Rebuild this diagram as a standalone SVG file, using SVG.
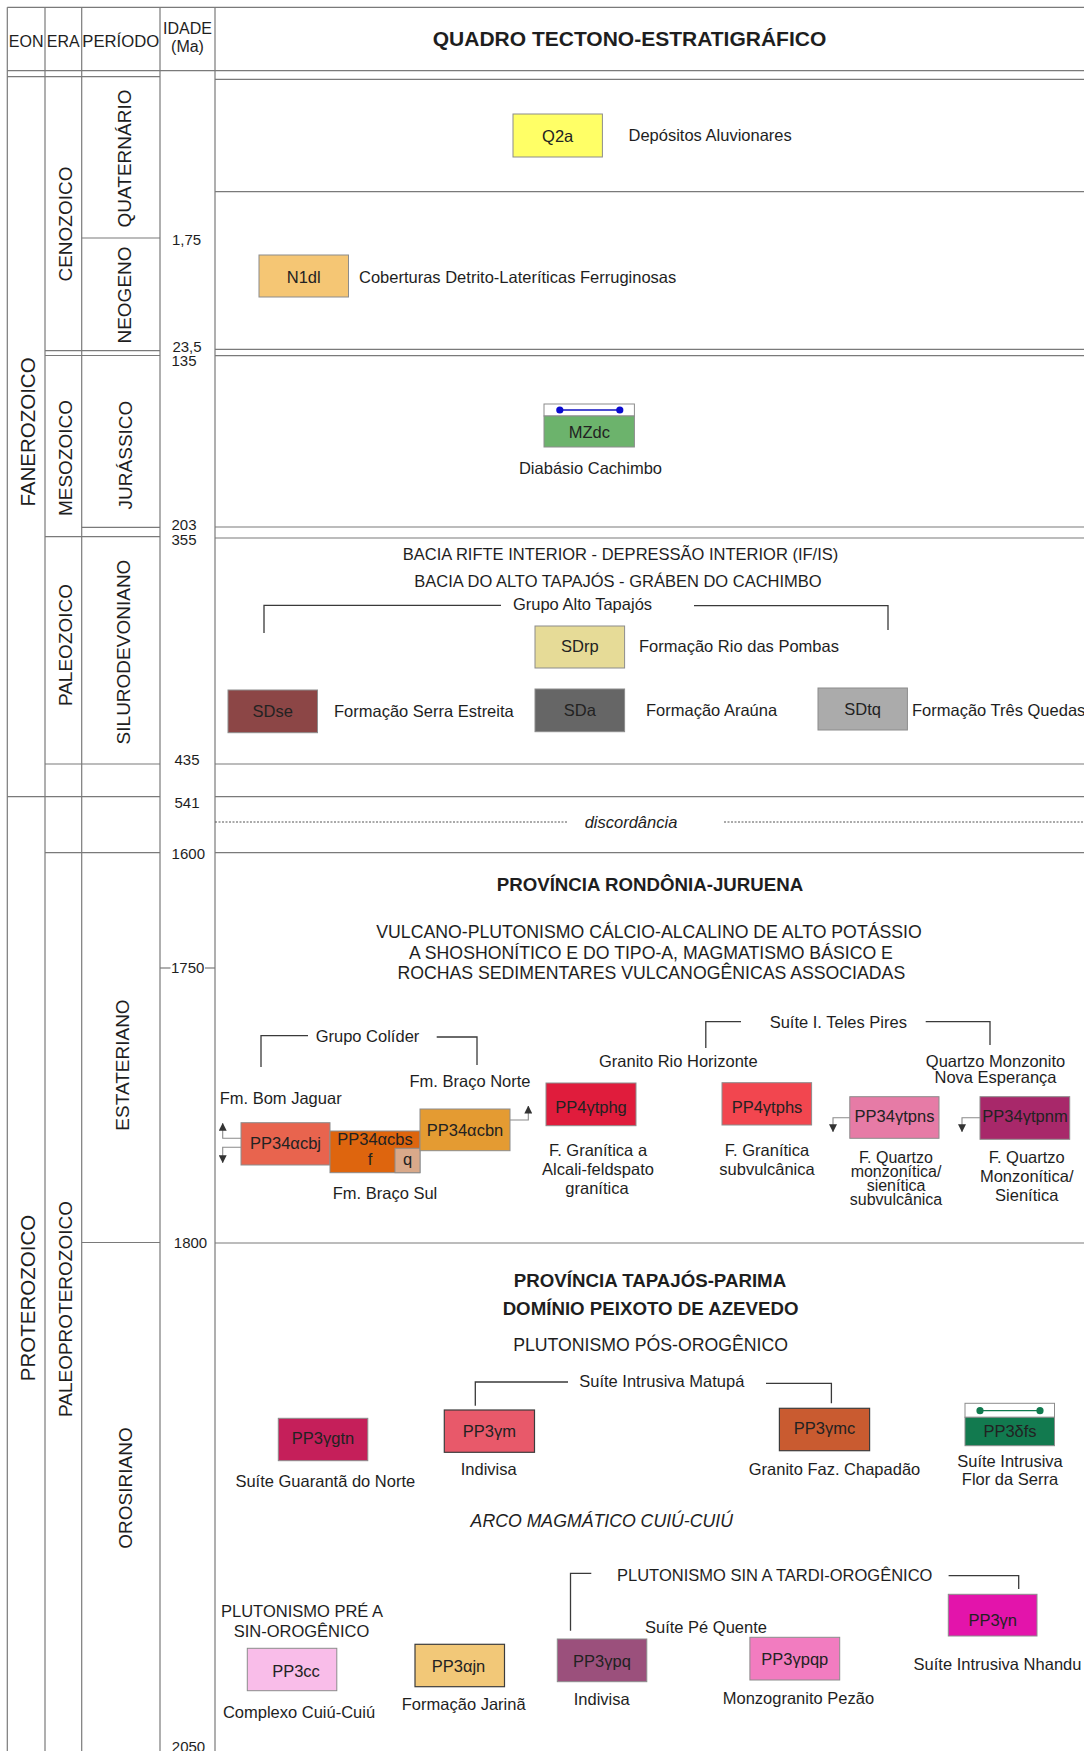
<svg xmlns="http://www.w3.org/2000/svg" width="1084" height="1751" viewBox="0 0 1084 1751">
<style>
text { font-family: "Liberation Sans", Arial, sans-serif; fill: #1e1e1e; }
.g { stroke: #7a7a7a; stroke-width: 1.2; fill: none; }
.dot { stroke: #555; stroke-width: 1; stroke-dasharray: 2 1.5; fill: none; }
.br { stroke: #3a3a3a; stroke-width: 1.3; fill: none; }
.ar { stroke: #8a8a8a; stroke-width: 1.1; fill: none; }
.t { font-size: 16.5px; }
.c { text-anchor: middle; }
.age { font-size: 15px; text-anchor: middle; }
.hd { font-size: 16px; text-anchor: middle; }
.eon { font-size: 20.5px; text-anchor: middle; }
.rot { font-size: 19px; text-anchor: middle; }
.box { stroke: #8c8c8c; stroke-width: 1; }
.dbox { stroke: #3c3c3c; stroke-width: 1.2; }
.bt { font-size: 16.5px; text-anchor: middle; fill: #222; }
.h { font-size: 18.7px; font-weight: bold; text-anchor: middle; }
.s { font-size: 17.7px; text-anchor: middle; }
.tight { font-size: 16px; text-anchor: middle; }
</style>
<defs>
<marker id="tri" viewBox="0 0 8 8" refX="7.5" refY="4" markerWidth="8" markerHeight="8" markerUnits="userSpaceOnUse" orient="auto">
<path d="M0,0 L8,4 L0,8 z" fill="#333"/>
</marker>
</defs>
<rect width="1084" height="1751" fill="#ffffff"/>

<g id="grid">
<line class="g" x1="7.3" y1="7.3" x2="1084" y2="7.3"/>
<line class="g" x1="7.3" y1="7.3" x2="7.3" y2="1751"/>
<line class="g" x1="45" y1="7.3" x2="45" y2="1751"/>
<line class="g" x1="81.7" y1="7.3" x2="81.7" y2="1751"/>
<line class="g" x1="160" y1="7.3" x2="160" y2="1751"/>
<line class="g" x1="215" y1="7.3" x2="215" y2="1751"/>
<line class="g" x1="7.3" y1="70.7" x2="1084" y2="70.7"/>
<line class="g" x1="7.3" y1="76.7" x2="160" y2="76.7"/>
<line class="g" x1="215" y1="79.3" x2="1084" y2="79.3"/>
<line class="g" x1="81.7" y1="238" x2="160" y2="238"/>
<line class="g" x1="215" y1="191.7" x2="1084" y2="191.7"/>
<line class="g" x1="45" y1="350.7" x2="160" y2="350.7"/>
<line class="g" x1="45" y1="355.5" x2="160" y2="355.5"/>
<line class="g" x1="215" y1="349.3" x2="1084" y2="349.3"/>
<line class="g" x1="215" y1="355.7" x2="1084" y2="355.7"/>
<line class="g" x1="81.7" y1="527.3" x2="160" y2="527.3"/>
<line class="g" x1="45" y1="536.7" x2="160" y2="536.7"/>
<line class="g" x1="215" y1="527" x2="1084" y2="527"/>
<line class="g" x1="215" y1="538" x2="1084" y2="538"/>
<line class="g" x1="45" y1="764" x2="160" y2="764"/>
<line class="g" x1="215" y1="764" x2="1084" y2="764"/>
<line class="g" x1="7.3" y1="796.7" x2="160" y2="796.7"/>
<line class="g" x1="215" y1="796.7" x2="1084" y2="796.7"/>
<line class="dot" x1="215" y1="822" x2="567.8" y2="822"/>
<line class="dot" x1="724" y1="822" x2="1084" y2="822"/>
<line class="g" x1="45" y1="852.7" x2="160" y2="852.7"/>
<line class="g" x1="215" y1="852.7" x2="1084" y2="852.7"/>
<line class="g" x1="160" y1="968" x2="170.5" y2="968"/>
<line class="g" x1="205" y1="968" x2="215" y2="968"/>
<line class="g" x1="81.7" y1="1242.5" x2="160" y2="1242.5"/>
<line class="g" x1="215" y1="1243" x2="1084" y2="1243"/>
</g>

<g id="header">
<text class="hd" x="26.2" y="47">EON</text>
<text class="hd" x="63.3" y="47">ERA</text>
<text class="hd" x="120.8" y="47" textLength="77" lengthAdjust="spacingAndGlyphs">PERÍODO</text>
<text class="hd" x="187.5" y="34.3">IDADE</text>
<text class="hd" x="187.5" y="51.5">(Ma)</text>
<text x="629.5" y="45.5" font-size="21" font-weight="bold" text-anchor="middle">QUADRO TECTONO-ESTRATIGRÁFICO</text>
</g>

<g id="timescale">
<text class="eon" transform="translate(35,432) rotate(-90)">FANEROZOICO</text>
<text class="eon" transform="translate(35,1298) rotate(-90)">PROTEROZOICO</text>
<text class="rot" transform="translate(72,224) rotate(-90)">CENOZOICO</text>
<text class="rot" transform="translate(72,458) rotate(-90)">MESOZOICO</text>
<text class="rot" transform="translate(72,645) rotate(-90)">PALEOZOICO</text>
<text class="rot" transform="translate(72,1309) rotate(-90)">PALEOPROTEROZOICO</text>
<text class="rot" transform="translate(131,158.5) rotate(-90)">QUATERNÁRIO</text>
<text class="rot" transform="translate(131,295) rotate(-90)">NEOGENO</text>
<text class="rot" transform="translate(132,455) rotate(-90)">JURÁSSICO</text>
<text class="rot" transform="translate(130,652) rotate(-90)">SILURODEVONIANO</text>
<text class="rot" transform="translate(128.5,1065) rotate(-90)">ESTATERIANO</text>
<text class="rot" transform="translate(132,1488) rotate(-90)">OROSIRIANO</text>
<text class="age" x="186.5" y="245">1,75</text>
<text class="age" x="187" y="351.5">23,5</text>
<text class="age" x="184" y="366">135</text>
<text class="age" x="184" y="530">203</text>
<text class="age" x="184" y="545">355</text>
<text class="age" x="187" y="765">435</text>
<text class="age" x="187" y="808">541</text>
<text class="age" x="188.3" y="859" font-size="17">1600</text>
<text class="age" x="187.7" y="973">1750</text>
<text class="age" x="190.5" y="1247.5">1800</text>
<text class="age" x="188.5" y="1752">2050</text>
</g>

<g id="title-rows">
<text class="t c" x="620.5" y="560">BACIA RIFTE INTERIOR - DEPRESSÃO INTERIOR (IF/IS)</text>
<text class="t c" x="618" y="586.7">BACIA DO ALTO TAPAJÓS - GRÁBEN DO CACHIMBO</text>
<text class="t c" x="582.5" y="610">Grupo Alto Tapajós</text>
<text class="t c" x="631" y="828" font-style="italic">discordância</text>
<text class="h" x="650" y="890.7">PROVÍNCIA RONDÔNIA-JURUENA</text>
<text class="s" x="649" y="938">VULCANO-PLUTONISMO CÁLCIO-ALCALINO DE ALTO POTÁSSIO</text>
<text class="s" x="651" y="958.5">A SHOSHONÍTICO E DO TIPO-A, MAGMATISMO BÁSICO E</text>
<text class="s" x="651.3" y="979">ROCHAS SEDIMENTARES VULCANOGÊNICAS ASSOCIADAS</text>
<text class="t c" x="367.5" y="1041.7">Grupo Colíder</text>
<text class="t c" x="838.3" y="1027.7">Suíte I. Teles Pires</text>
<text class="t" x="219.7" y="1104">Fm. Bom Jaguar</text>
<text class="t c" x="470" y="1086.7">Fm. Braço Norte</text>
<text class="t c" x="385" y="1199">Fm. Braço Sul</text>
<text class="t c" x="678.3" y="1066.7">Granito Rio Horizonte</text>
<text class="t c" x="995.5" y="1066.7">Quartzo Monzonito</text>
<text class="t c" x="995.5" y="1083">Nova Esperança</text>
<text class="h" x="650" y="1286.7">PROVÍNCIA TAPAJÓS-PARIMA</text>
<text class="h" x="650.6" y="1315">DOMÍNIO PEIXOTO DE AZEVEDO</text>
<text class="s" x="650.6" y="1351">PLUTONISMO PÓS-OROGÊNICO</text>
<text class="t c" x="661.8" y="1386.7">Suíte Intrusiva Matupá</text>
<text class="s" x="601.8" y="1527.3" font-style="italic" font-size="18.5">ARCO MAGMÁTICO CUIÚ-CUIÚ</text>
<text class="t c" x="774.7" y="1580.7">PLUTONISMO SIN A TARDI-OROGÊNICO</text>
<text class="t c" x="706" y="1632.7">Suíte Pé Quente</text>
<text class="t c" x="302" y="1617.3">PLUTONISMO PRÉ A</text>
<text class="t c" x="301.5" y="1637.3">SIN-OROGÊNICO</text>
</g>

<g id="connectors">
<path class="br" d="M264,633 V605.3 H501"/>
<path class="br" d="M694,605.7 H888 V630"/>
<path class="br" d="M261,1067 V1035.7 H308"/>
<path class="br" d="M436.7,1037 H477 V1065"/>
<path class="br" d="M705.8,1048 V1021.7 H741"/>
<path class="br" d="M925.7,1021.7 H990 V1045"/>
<path class="br" d="M475.3,1405.7 V1382 H568"/>
<path class="br" d="M766,1383.3 H831.4 V1403.3"/>
<path class="br" d="M570.5,1630.7 V1573.3 H591.3"/>
<path class="br" d="M948.6,1575.7 H1018.7 V1589"/>
<path class="ar" d="M241,1138.3 H222.7 V1123.3" marker-end="url(#tri)"/>
<path class="ar" d="M241,1147.3 H222.7 V1162.7" marker-end="url(#tri)"/>
<path class="ar" d="M510,1120 H528.3 V1106" marker-end="url(#tri)"/>
<path class="ar" d="M849.8,1117.7 H833 V1131.7" marker-end="url(#tri)"/>
<path class="ar" d="M980,1117.7 H962 V1131.7" marker-end="url(#tri)"/>
</g>

<g id="Q2a">
<rect class="box" x="513" y="114" width="89.4" height="43" fill="#FFFF66"/>
<text class="bt" x="557.7" y="141.5">Q2a</text>
<text class="t" x="628.5" y="141">Depósitos Aluvionares</text>
</g>
<g id="N1dl">
<rect class="box" x="259" y="255" width="89.5" height="42" fill="#F5C674"/>
<text class="bt" x="303.7" y="283">N1dl</text>
<text class="t" x="359" y="283">Coberturas Detrito-Lateríticas Ferruginosas</text>
</g>
<g id="MZdc">
<rect class="box" x="544" y="404" width="90.4" height="12" fill="#ffffff"/>
<rect class="box" x="544" y="416" width="90.4" height="31" fill="#6CB36C"/>
<line x1="559.8" y1="410" x2="619.8" y2="410" stroke="#1010c0" stroke-width="1.3"/>
<circle cx="559.8" cy="410" r="3.6" fill="#0a0ad0"/>
<circle cx="619.8" cy="410" r="3.6" fill="#0a0ad0"/>
<text class="bt" x="589.4" y="437.5">MZdc</text>
<text class="t c" x="590.5" y="474">Diabásio Cachimbo</text>
</g>
<g id="SDrp">
<rect class="box" x="535" y="626" width="89.6" height="42" fill="#E6DB97"/>
<text class="bt" x="579.8" y="652">SDrp</text>
<text class="t" x="639" y="651.5">Formação Rio das Pombas</text>
</g>
<g id="SDse">
<rect class="box" x="228" y="690" width="89.5" height="42.7" fill="#8C4646"/>
<text class="bt" x="272.7" y="717" fill="#2e1414">SDse</text>
<text class="t" x="334" y="716.5">Formação Serra Estreita</text>
</g>
<g id="SDa">
<rect class="box" x="535" y="689" width="89.6" height="42.7" fill="#666666"/>
<text class="bt" x="579.8" y="716">SDa</text>
<text class="t" x="646" y="716">Formação Araúna</text>
</g>
<g id="SDtq">
<rect class="box" x="818" y="688" width="89.4" height="42" fill="#ABABAB"/>
<text class="bt" x="862.7" y="714.5">SDtq</text>
<text class="t" x="912" y="715.5">Formação Três Quedas</text>
</g>

<g id="PP34acbj">
<rect class="box" x="241" y="1122.7" width="89" height="42.3" fill="#E8644E"/>
<text class="bt" x="285.5" y="1148.5">PP34αcbj</text>
</g>
<g id="PP34acbs">
<rect class="box" x="330" y="1131" width="90" height="41.7" fill="#DE650E"/>
<rect class="box" x="395" y="1148.3" width="25" height="24.4" fill="#D9A98A"/>
<text class="bt" x="375" y="1144.5">PP34αcbs</text>
<text class="bt" x="370" y="1165">f</text>
<text class="bt" x="407.5" y="1164.5">q</text>
</g>
<g id="PP34acbn">
<rect class="box" x="420" y="1109" width="90" height="41.7" fill="#E49B32"/>
<text class="bt" x="465" y="1135.5">PP34αcbn</text>
</g>
<g id="PP4ytphg">
<rect class="box" x="546" y="1083" width="90" height="42.7" fill="#E01C3C"/>
<text class="bt" x="591" y="1113" fill="#3a0a0a">PP4γtphg</text>
<text class="t c" x="598" y="1156">F. Granítica a</text>
<text class="t c" x="598" y="1175">Alcali-feldspato</text>
<text class="t c" x="597" y="1194.3">granítica</text>
</g>
<g id="PP4ytphs">
<rect class="box" x="722" y="1082.7" width="89.6" height="42.3" fill="#F2464F"/>
<text class="bt" x="767" y="1113" fill="#3a0a0a">PP4γtphs</text>
<text class="t c" x="767" y="1156">F. Granítica</text>
<text class="t c" x="767" y="1175">subvulcânica</text>
</g>
<g id="PP34ytpns">
<rect class="box" x="849.8" y="1096.7" width="89.2" height="41.6" fill="#E67BA6"/>
<text class="bt" x="894.5" y="1122">PP34γtpns</text>
<text class="tight" x="896" y="1162.5">F. Quartzo</text>
<text class="tight" x="896" y="1176.5">monzonítica/</text>
<text class="tight" x="896" y="1190.5">sienítica</text>
<text class="tight" x="896" y="1205">subvulcânica</text>
</g>
<g id="PP34ytpnm">
<rect class="box" x="980" y="1096.7" width="89.7" height="42.6" fill="#A8286A"/>
<text class="bt" x="1025" y="1122">PP34γtpnm</text>
<text class="t c" x="1026.7" y="1162.7">F. Quartzo</text>
<text class="t c" x="1026.7" y="1182">Monzonítica/</text>
<text class="t c" x="1026.7" y="1201">Sienítica</text>
</g>

<g id="PP3ygtn">
<rect class="box" x="278.3" y="1418.3" width="89.5" height="42.4" fill="#C51F5A"/>
<text class="bt" x="323" y="1444.3">PP3γgtn</text>
<text class="t c" x="325.3" y="1486.7">Suíte Guarantã do Norte</text>
</g>
<g id="PP3ym">
<rect class="dbox" x="444.3" y="1410" width="90.2" height="42.3" fill="#E8596A"/>
<text class="bt" x="489.4" y="1436.7" fill="#4a2026">PP3γm</text>
<text class="t c" x="488.7" y="1475">Indivisa</text>
</g>
<g id="PP3ymc">
<rect class="dbox" x="779.4" y="1408.3" width="90.2" height="42.4" fill="#C95B30"/>
<text class="bt" x="824.5" y="1433.5" fill="#4a2414">PP3γmc</text>
<text class="t c" x="834.5" y="1475">Granito Faz. Chapadão</text>
</g>
<g id="PP3dfs">
<rect class="box" x="965" y="1403.3" width="89.5" height="14" fill="#ffffff"/>
<rect class="box" x="965" y="1417.3" width="89.5" height="28.4" fill="#127A4F"/>
<line x1="980" y1="1410.7" x2="1040" y2="1410.7" stroke="#127A4F" stroke-width="1.3"/>
<circle cx="980" cy="1410.7" r="3.6" fill="#127A4F"/>
<circle cx="1040" cy="1410.7" r="3.6" fill="#127A4F"/>
<text class="bt" x="1010" y="1437">PP3δfs</text>
<text class="t c" x="1010" y="1466.7">Suíte Intrusiva</text>
<text class="t c" x="1010" y="1485">Flor da Serra</text>
</g>
<g id="PP3yn">
<rect class="box" x="948.3" y="1594.3" width="88.7" height="41.7" fill="#E314AB"/>
<text class="bt" x="992.7" y="1626">PP3γn</text>
<text class="t c" x="997.5" y="1670">Suíte Intrusiva Nhandu</text>
</g>
<g id="PP3ypq">
<rect class="box" x="557.3" y="1639" width="89.5" height="42.7" fill="#9B507C"/>
<text class="bt" x="602" y="1667">PP3γpq</text>
<text class="t c" x="601.7" y="1705">Indivisa</text>
</g>
<g id="PP3ypqp">
<rect class="box" x="749.9" y="1637.3" width="89.8" height="42.7" fill="#F27CC0"/>
<text class="bt" x="794.8" y="1665">PP3γpqp</text>
<text class="t c" x="798.4" y="1704">Monzogranito Pezão</text>
</g>
<g id="PP3cc">
<rect class="box" x="247.3" y="1648.3" width="89.5" height="42.4" fill="#F9BDE9"/>
<text class="bt" x="296" y="1677">PP3cc</text>
<text class="t c" x="299" y="1718.3">Complexo Cuiú-Cuiú</text>
</g>
<g id="PP3ajn">
<rect class="dbox" x="415" y="1644.3" width="89.5" height="42.4" fill="#F2C878"/>
<text class="bt" x="458.5" y="1672">PP3αjn</text>
<text class="t c" x="463.7" y="1710">Formação Jarinã</text>
</g>
</svg>
